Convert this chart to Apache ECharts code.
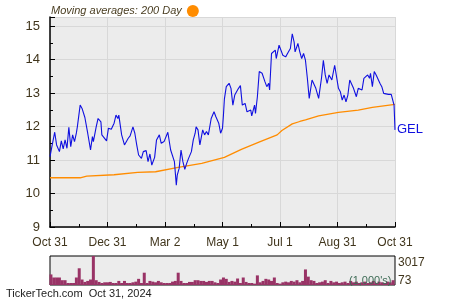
<!DOCTYPE html>
<html>
<head>
<meta charset="utf-8">
<script src="https://cdn.jsdelivr.net/npm/echarts@6/dist/echarts.min.js"></script>
<style>html,body{margin:0;padding:0;background:#fff}#c{width:450px;height:300px}</style>
</head>
<body>
<div id="c"></div>
<script>
// x values are days since Oct 31, 2023
const tickLabels = ['Oct 31', 'Dec 31', 'Mar 2', 'May 1', 'Jul 1', 'Aug 31', 'Oct 31'];
const ticker = 'GEL';

const priceDays = [0,1,2,5,7,10,12,14,16,18,20,22,24,26,28,29,32,34,37,39,40,43,45,46,49,51,54,55,57,60,62,65,68,70,72,73,76,79,83,85,88,90,92,94,97,99,102,104,106,108,111,113,116,118,121,123,125,128,130,132,134,135,137,139,141,143,145,147,150,152,154,155,157,159,162,164,166,168,171,174,176,177,179,181,183,184,185,187,190,192,194,196,198,200,202,204,207,209,211,213,214,217,218,220,222,225,228,230,232,233,235,237,239,240,243,245,247,249,250,253,255,257,259,260,263,265,267,269,271,273,275,278,280,282,285,288,290,292,294,296,299,302,304,306,308,310,312,314,316,318,320,322,325,327,329,331,333,335,337,339,340,342,344,346,348,350,352,354,356,359,361,362,364,365,366];
const priceValues = [11.1,11.05,11.40,11.83,11.45,11.25,11.57,11.33,11.60,11.35,11.98,11.40,11.75,11.55,11.81,11.99,12.64,12.54,12.27,12.31,11.80,11.30,11.70,11.55,11.99,12.24,12.14,11.75,11.70,11.57,11.95,11.92,12.10,12.34,12.24,12.34,11.75,11.45,11.65,11.72,11.99,11.80,11.45,11.15,11.05,11.25,11.28,10.95,11.18,10.85,11.08,11.60,11.75,11.50,11.55,11.58,11.83,11.30,11.25,10.95,10.25,10.55,10.75,11.30,10.95,10.72,10.90,11.05,11.25,11.60,11.80,11.99,11.90,11.45,11.90,11.75,11.85,11.75,12.24,12.44,12.29,12.34,12.10,11.80,11.95,12.34,12.82,13.19,13.29,13.14,12.64,12.94,12.89,13.14,13.22,12.64,12.69,12.44,12.39,12.49,12.32,12.64,12.39,12.89,13.64,13.59,13.34,13.19,13.29,13.09,14.18,14.13,14.28,14.03,14.43,14.38,14.13,14.18,14.08,14.23,14.33,14.77,14.52,14.23,14.48,14.23,14.03,14.18,13.98,13.45,12.84,13.39,13.44,13.14,12.84,13.44,13.98,13.54,13.29,13.54,13.39,13.83,13.83,13.14,13.04,12.79,12.94,12.74,12.94,13.39,13.34,13.14,12.89,13.14,13.14,13.09,13.44,13.49,13.54,13.44,13.59,13.19,13.64,13.54,13.49,13.29,13.19,12.99,12.94,12.96,12.91,12.96,12.91,12.64,11.90];

const maDays = [0,32,39,68,93,112,136,161,185,203,223,241,246,257,265,271,285,306,327,342,366];
const maValues = [10.47,10.47,10.52,10.56,10.63,10.65,10.78,10.90,11.08,11.32,11.55,11.75,11.88,12.08,12.15,12.20,12.32,12.42,12.49,12.57,12.66];

const volDays = [];
for (let d = 1; d <= 364; d += 3) volDays.push(d);
const volValues = [1100,780,780,780,500,500,210,210,210,780,1740,570,320,425,570,3017,500,320,210,280,280,320,210,210,425,210,425,210,210,280,350,640,210,1280,210,425,350,280,425,280,210,210,210,350,425,1280,425,210,210,320,320,500,500,425,425,320,425,425,280,210,570,780,640,320,425,350,675,210,780,320,210,210,140,1000,280,425,640,570,425,780,210,140,280,350,280,425,350,500,280,425,1620,870,500,425,210,280,350,500,210,425,280,350,210,280,350,210,425,280,350,210,280,350,210,280,425,210,350,280,210,350,280,500];
const volMax = 3017, volMin = 73;

const txt = '#40351c';
const font = "'Liberation Sans', Arial, sans-serif";

const chart = echarts.init(document.getElementById('c'), null, {renderer: 'canvas'});
chart.setOption({
  animation: false,
  backgroundColor: '#ffffff',
  textStyle: {fontFamily: font},
  legend: {
    data: ['MA'],
    left: 46, top: 0,
    align: 'right',
    icon: 'circle',
    itemWidth: 12, itemHeight: 12,
    formatter: () => 'Moving averages: 200 Day',
    textStyle: {fontStyle: 'italic', fontSize: 11, color: '#4a3e22', fontFamily: font}
  },
  grid: [
    {left: 50, top: 17, width: 345, height: 210, show: true, backgroundColor: '#ececec', borderWidth: 0},
    {left: 50, top: 256, width: 345, height: 29, show: true, backgroundColor: '#ececec', borderColor: '#000', borderWidth: 1}
  ],
  xAxis: [
    {
      type: 'value', gridIndex: 0, min: 0, max: 366, interval: 61,
      axisLine: {show: true, lineStyle: {color: '#000', width: 1.5}},
      axisTick: {show: true, inside: true, length: 5, lineStyle: {color: '#000'}},
      minorTick: {show: true, splitNumber: 2, length: 3, lineStyle: {color: '#000'}},
      splitLine: {show: true, lineStyle: {color: '#d8d8d8', width: 1}},
      axisLabel: {
        color: txt, fontSize: 12, margin: 10, fontFamily: font,
        formatter: v => tickLabels[Math.round(v / 61)] || ''
      }
    },
    {
      type: 'value', gridIndex: 1, min: 0, max: 366,
      axisLine: {show: false}, axisTick: {show: false}, axisLabel: {show: false}, splitLine: {show: false}
    }
  ],
  yAxis: [
    {
      type: 'value', gridIndex: 0, min: 9, max: 15.27, interval: 1,
      axisLine: {show: true, lineStyle: {color: '#000', width: 1.5}},
      axisTick: {show: true, inside: true, length: 5, lineStyle: {color: '#000'}},
      minorTick: {show: true, splitNumber: 2, length: 3, lineStyle: {color: '#000'}},
      splitLine: {show: true, lineStyle: {color: '#d8d8d8', width: 1}},
      axisLabel: {color: txt, fontSize: 13, margin: 10, fontFamily: font, showMaxLabel: false}
    },
    {
      type: 'value', gridIndex: 1, min: 0, max: volMax,
      axisLine: {show: false}, axisTick: {show: false}, axisLabel: {show: false}, splitLine: {show: false}
    }
  ],
  series: [
    {
      name: 'MA', type: 'line', xAxisIndex: 0, yAxisIndex: 0,
      data: maDays.map((d, i) => [d, maValues[i]]),
      showSymbol: false, symbol: 'none',
      lineStyle: {color: '#ff8c00', width: 1.3}, itemStyle: {color: '#ff8c00'}, z: 3
    },
    {
      name: ticker, type: 'line', xAxisIndex: 0, yAxisIndex: 0,
      data: priceDays.map((d, i) => [d, priceValues[i]]),
      showSymbol: false, symbol: 'none',
      lineStyle: {color: '#1010e0', width: 1.1}, itemStyle: {color: '#1010e0'}, z: 4,
      endLabel: {show: true, formatter: ticker, color: '#1010e0', fontSize: 13, distance: 2, fontFamily: font}
    },
    {
      name: 'Volume', type: 'bar', xAxisIndex: 1, yAxisIndex: 1,
      data: volDays.map((d, i) => [d, volValues[i]]),
      barWidth: 3, itemStyle: {color: '#993366'}
    }
  ],
  graphic: [
    {type: 'text', left: 398, top: 257, style: {text: String(volMax), fill: txt, font: '12px ' + font}},
    {type: 'text', left: 398, top: 275, style: {text: String(volMin), fill: txt, font: '12px ' + font}},
    {type: 'text', left: 349, top: 275, z: 100, style: {text: "(1,000's)", fill: '#3d6b55', font: '11px ' + font}},
    {type: 'text', left: 6, top: 288, style: {text: 'TickerTech.com  Oct 31, 2024', fill: '#222', font: '11px ' + font}}
  ]
});
</script>
</body>
</html>
